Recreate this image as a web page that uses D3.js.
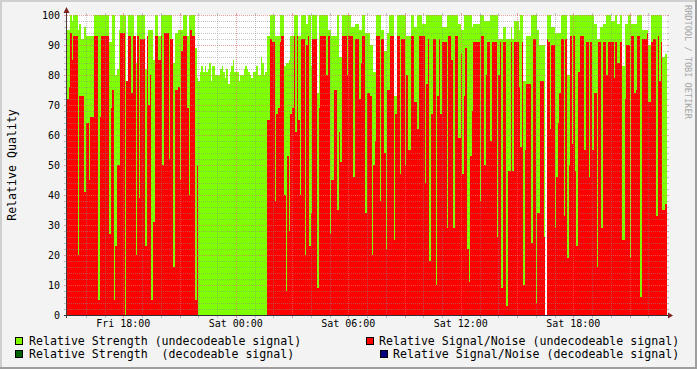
<!DOCTYPE html>
<html><head><meta charset="utf-8">
<script src="https://cdn.jsdelivr.net/npm/d3@7"></script>
<style>
html,body{margin:0;padding:0;background:#f3f3f3;}
svg{display:block;}
text{font-family:"DejaVu Sans Mono",monospace;white-space:pre;}
</style>
</head><body>
<svg id="chart" width="697" height="369"></svg>
<script>
// ---- data: 5-minute samples, Fri 15:00 -> Sat 23:00 ----
const strength = [
95,95,100,98,100,100,100,95,97,92,92,96,93,93,93,93,93,100,100,100,
100,100,100,100,100,100,100,91,91,100,100,80,82,95,100,100,100,100,78,100,
100,100,100,84,84,100,100,100,100,100,82,82,95,95,95,85,100,100,93,93,
100,100,100,100,100,100,100,84,84,94,94,95,95,95,100,100,100,93,100,100,
100,100,89,79,78,81,83,81,83,81,82,84,78,83,83,80,80,80,82,83,
81,79,82,77,81,83,85,81,81,81,78,80,80,82,83,82,81,80,79,81,
81,83,80,80,86,84,80,81,93,93,100,100,100,93,93,93,100,100,100,83,
84,84,85,93,93,100,100,100,93,93,100,100,100,97,100,100,83,100,100,100,
74,100,100,100,100,100,100,95,95,93,93,93,93,100,86,86,100,100,100,100,
100,100,96,96,97,97,97,95,95,100,100,94,94,94,90,90,81,81,100,100,
100,95,95,88,88,94,100,100,100,73,73,100,100,100,100,100,100,93,93,93,
100,100,96,96,100,100,100,97,97,97,100,100,100,100,100,100,100,100,100,100,
96,96,96,100,100,100,100,100,100,100,97,97,95,95,100,100,100,100,100,96,
97,97,97,97,100,100,100,98,98,98,98,100,100,100,100,100,92,92,92,96,
96,92,92,92,96,92,98,98,98,95,100,100,78,78,93,93,93,100,100,100,
100,95,90,90,90,90,null,100,100,100,96,96,94,94,94,94,100,100,100,100,
80,80,100,100,100,100,100,100,100,100,100,100,100,100,100,100,100,97,97,92,
92,96,96,97,97,100,100,100,98,98,98,100,97,97,100,83,83,97,97,100,
100,97,97,97,97,100,100,100,95,95,95,95,90,90,100,100,100,100,100,100,
100,86,86,87
];
const snr = [
72,76,94,85,93,93,93,20,73,73,73,41,64,64,45,66,66,93,93,93,
5,66,93,93,93,93,93,27,69,75,5,23,50,50,94,94,94,0,78,93,
93,74,93,93,20,93,39,92,92,92,23,93,70,80,5,31,93,93,85,85,
93,50,94,94,94,52,92,92,16,75,75,76,45,88,93,93,93,69,40,95,
93,93,5,50,0,0,0,0,0,0,0,0,0,0,0,0,0,0,0,0,
0,0,0,0,0,0,0,0,0,0,0,0,0,0,0,0,0,0,0,0,
0,0,0,0,0,0,0,0,65,65,92,91,91,38,67,69,91,93,93,40,
8,53,28,67,69,93,61,93,65,40,92,92,20,90,93,23,34,92,92,92,
9,69,93,93,93,93,80,93,27,45,45,75,75,35,61,51,93,93,93,80,
93,93,93,46,92,92,92,72,84,93,93,34,74,74,73,20,50,58,93,93,
38,92,92,54,22,75,75,93,93,25,67,93,93,47,92,92,50,80,55,55,
93,93,71,71,62,93,93,93,93,44,77,92,18,67,92,92,10,73,92,67,
91,91,91,29,93,93,85,29,93,93,59,59,87,47,73,89,22,11,53,68,
91,91,91,91,38,93,93,50,80,91,91,58,91,91,91,26,80,91,9,91,
91,3,48,48,91,48,91,91,91,76,56,91,10,55,77,77,77,24,92,92,
4,34,34,78,78,26,null,92,91,62,90,90,29,46,64,74,92,92,33,92,
19,50,93,57,93,48,23,81,93,93,93,55,91,91,46,91,55,74,74,16,
91,91,29,91,91,80,91,91,91,91,79,91,84,84,91,25,25,72,90,90,
19,93,93,74,75,93,93,6,92,92,92,94,71,71,91,92,92,33,93,78,
91,35,35,37
];
const stepMinutes = 5;
const startTime = new Date(2000, 0, 7, 15, 0);   // Fri 15:00
const endTime   = new Date(2000, 0, 8, 23, 0);   // Sat 23:00
const yTickValues = [0,10,20,30,40,50,60,70,80,90,100];
const xTickTimes = [new Date(2000,0,7,18,0), new Date(2000,0,8,0,0), new Date(2000,0,8,6,0), new Date(2000,0,8,12,0), new Date(2000,0,8,18,0)];
const xTickLabels = ["Fri 18:00","Sat 00:00","Sat 06:00","Sat 12:00","Sat 18:00"];
const yTitle = "Relative Quality";
const watermark = "RRDTOOL / TOBI OETIKER";
const legendLabels = [
  "Relative Strength (undecodeable signal)",
  "Relative Signal/Noise (undecodeable signal)",
  "Relative Strength  (decodeable signal)",
  "Relative Signal/Noise (decodeable signal)"
];
const legendColors = ["#7FFF00","#FF0000","#006400","#000080"];

// ---- drawing ----
const W = 697, H = 369;
const svg = d3.select("#chart");
const L = 67, R = 667, T = 15, B = 315;

svg.append("rect").attr("width", W).attr("height", H).attr("fill", "#f3f3f3");
svg.append("rect").attr("x",0).attr("y",0).attr("width",W).attr("height",2).attr("fill","#cfcfcf");
svg.append("rect").attr("x",0).attr("y",0).attr("width",2).attr("height",H).attr("fill","#cfcfcf");
svg.append("rect").attr("x",W-2).attr("y",0).attr("width",2).attr("height",H).attr("fill","#9e9e9e");
svg.append("rect").attr("x",0).attr("y",H-2).attr("width",W).attr("height",2).attr("fill","#9e9e9e");

const x = d3.scaleTime().domain([startTime, endTime]).range([L, R]);
const y = d3.scaleLinear().domain([0, 100]).range([B, T]);

svg.append("rect").attr("x", L).attr("y", T).attr("width", R - L).attr("height", B - T).attr("fill", "#ffffff");

const pts = strength.map((s, i) => ({
  t0: d3.timeMinute.offset(startTime, i * stepMinutes),
  t1: d3.timeMinute.offset(startTime, (i + 1) * stepMinutes),
  s: s, r: snr[i]
})).filter(d => d.s != null);

const px0 = d => Math.round(x(d.t0));
const pw = d => Math.round(x(d.t1)) - Math.round(x(d.t0));

svg.append("g").attr("shape-rendering","crispEdges").selectAll("rect").data(pts).join("rect")
  .attr("x", px0).attr("width", pw)
  .attr("y", d => Math.round(y(d.s))).attr("height", d => B - Math.round(y(d.s)))
  .attr("fill", "#7FFF00");
svg.append("g").attr("shape-rendering","crispEdges").selectAll("rect").data(pts.filter(d => d.r > 0)).join("rect")
  .attr("x", px0).attr("width", pw)
  .attr("y", d => Math.round(y(d.r))).attr("height", d => B - Math.round(y(d.r)))
  .attr("fill", "#FF0000");

// grid
const minorCol = "rgba(140,140,140,0.5)";
const majorCol = "rgba(225,110,110,0.65)";
const grid = svg.append("g").attr("shape-rendering","crispEdges");
d3.range(2, 101, 2).forEach(v => {
  const yy = Math.round(y(v)) + 0.5;
  const col = v % 10 === 0 ? majorCol : minorCol;
  grid.append("line").attr("x1", L).attr("x2", R).attr("y1", yy).attr("y2", yy)
    .attr("stroke", col).attr("stroke-dasharray", "1,1");
  grid.append("line").attr("x1", L - 3).attr("x2", L).attr("y1", yy).attr("y2", yy).attr("stroke", col);
  grid.append("line").attr("x1", R).attr("x2", R + 2).attr("y1", yy).attr("y2", yy).attr("stroke", col);
});
d3.timeHour.range(d3.timeHour.offset(startTime, 1), endTime).forEach(h => {
  const xx = Math.round(x(h)) + 0.5;
  const col = h.getHours() % 3 === 0 ? majorCol : minorCol;
  grid.append("line").attr("y1", T).attr("y2", B).attr("x1", xx).attr("x2", xx)
    .attr("stroke", col).attr("stroke-dasharray", "1,1");
  grid.append("line").attr("y1", T - 2).attr("y2", T).attr("x1", xx).attr("x2", xx).attr("stroke", col);
  grid.append("line").attr("y1", B).attr("y2", B + 3).attr("x1", xx).attr("x2", xx).attr("stroke", col);
});

// axes
svg.append("line").attr("x1", L - 3).attr("x2", R + 3).attr("y1", B + 0.5).attr("y2", B + 0.5)
  .attr("stroke", "#2f2f3a").attr("shape-rendering","crispEdges");
svg.append("line").attr("x1", L - 0.5).attr("x2", L - 0.5).attr("y1", B + 3).attr("y2", T - 3)
  .attr("stroke", "#4a3a3a").attr("shape-rendering","crispEdges");
svg.append("path").attr("d", `M${L-0.5},${T-8} L${L-3.5},${T-2} L${L+2.5},${T-2} Z`).attr("fill", "#7f2020");
svg.append("path").attr("d", `M${R+6},${B+0.5} L${R+1},${B-2.5} L${R+1},${B+3.5} Z`).attr("fill", "#7f2020");

// y labels
svg.append("g").selectAll("text").data(yTickValues).join("text")
  .attr("x", 60).attr("y", d => y(d) + 4).attr("text-anchor", "end")
  .attr("font-size", "10px").attr("fill", "#000").text(d => d);
// x labels
svg.append("g").selectAll("text").data(xTickTimes).join("text")
  .attr("x", d => x(d)).attr("y", 327).attr("text-anchor", "middle")
  .attr("font-size", "10px").attr("fill", "#000").text((d, i) => xTickLabels[i]);

// y title
svg.append("text").attr("transform", `translate(16,${(T + B) / 2}) rotate(-90)`)
  .attr("text-anchor", "middle").attr("font-size", "11.6px").attr("fill", "#000").text(yTitle);
// watermark
svg.append("text").attr("transform", "translate(685,5) rotate(90)")
  .attr("text-anchor", "start").attr("font-size", "8.6px").attr("fill", "#a6a6a6").text(watermark);

// legend
const legPos = [
  {bx: 15, by: 337, tx: 29, ty: 345},
  {bx: 366, by: 337, tx: 379, ty: 345},
  {bx: 15, by: 350, tx: 29, ty: 358},
  {bx: 380, by: 350, tx: 393, ty: 358}
];
legendLabels.forEach((lab, i) => {
  const p = legPos[i];
  svg.append("rect").attr("x", p.bx + 0.5).attr("y", p.by + 0.5).attr("width", 7).attr("height", 7)
    .attr("fill", legendColors[i]).attr("stroke", "#000").attr("stroke-width", 1);
  svg.append("text").attr("x", p.tx).attr("y", p.ty).attr("font-size", "11.6px").attr("fill", "#000")
    .attr("xml:space", "preserve").text(lab);
});
</script>
</body></html>
